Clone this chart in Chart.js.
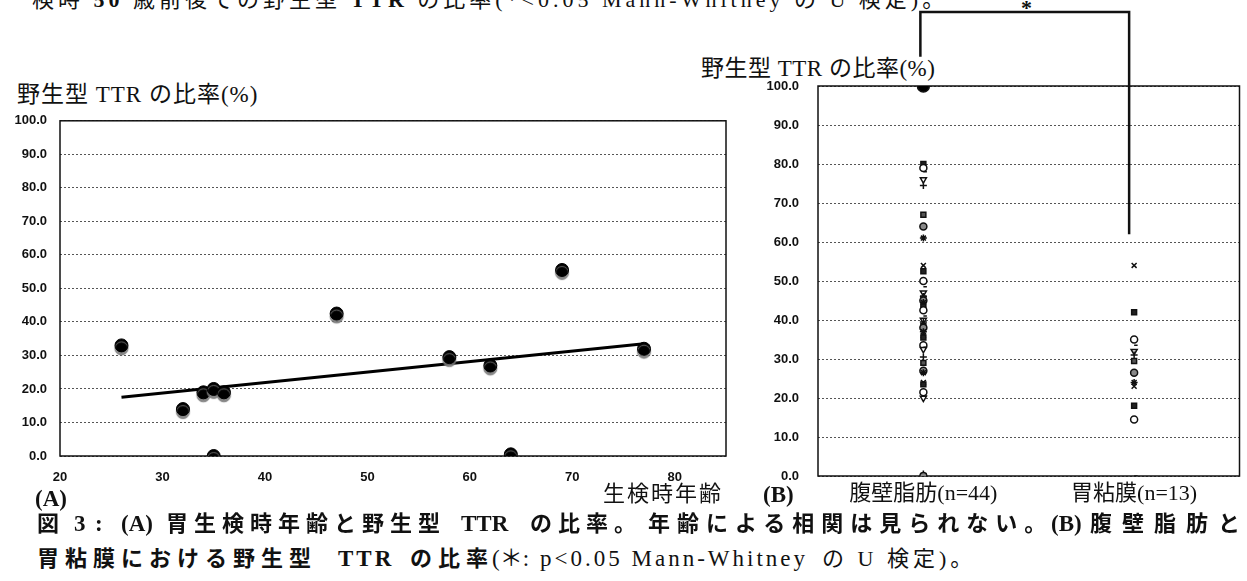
<!DOCTYPE html>
<html lang="ja">
<head>
<meta charset="utf-8">
<script src="https://cdn.jsdelivr.net/npm/chart.js@4.4.1/dist/chart.umd.min.js"></script>
<style>
  body { margin: 0; width: 1247px; height: 581px; overflow: hidden; background: #fff; position: relative;
         font-family: "Liberation Serif", "Noto Sans CJK JP", serif; color: #111; }
  canvas { position: absolute; }
  .t { position: absolute; white-space: nowrap; line-height: 1; }
  .cap { font-size: 22px; }
  .j { font-weight: bold; letter-spacing: 6px; }
  .b { font-weight: bold; font-size: 23px; }
  .ttl { font-size: 23px; letter-spacing: 1px; }
</style>
</head>
<body>

<div class="t" style="left:32px; top:-11px; font-size:22px; letter-spacing:4px">検時 <b>50</b> 歳前後での野生型 <b>TTR</b> の比率(*&lt;0.05 Mann-Whitney の U 検定)。</div>
<div class="t" style="left:1021px; top:-3px; font-size:22px; font-weight:bold">*</div>

<div class="t ttl" style="left:17px; top:83px">野生型 TTR の比率(%)</div>
<div class="t ttl" style="left:701px; top:57px; letter-spacing:0.5px">野生型 TTR の比率(%)</div>

<canvas id="chartA" width="740" height="390" style="left:0; top:100px"></canvas>
<canvas id="chartB" width="507" height="520" style="left:740px; top:0"></canvas>

<div class="t" style="left:35px; top:487px; font-size:23px; font-weight:bold">(A)</div>
<div class="t" style="left:603px; top:483px; font-size:22px; letter-spacing:2px">生検時年齢</div>
<div class="t" style="left:763px; top:483px; font-size:23px; font-weight:bold">(B)</div>

<!-- caption, line 1 -->
<div class="t cap j" style="left:37px; top:513px">図</div>
<div class="t cap b" style="left:74px; top:512px">3</div>
<div class="t cap b" style="left:95px; top:512px">:</div>
<div class="t cap b" style="left:121px; top:512px">(A)</div>
<div class="t cap j" style="left:166px; top:513px">胃生検時年齢と野生型</div>
<div class="t cap b" style="left:461px; top:512px">TTR</div>
<div class="t cap j" style="left:530px; top:513px">の比率。</div>
<div class="t cap j" style="left:648px; top:513px; letter-spacing:7px">年齢による相関は見られない。</div>
<div class="t cap b" style="left:1051px; top:512px">(B)</div>
<div class="t cap j" style="left:1090px; top:513px; letter-spacing:10px">腹壁脂肪と</div>

<!-- caption, line 2 -->
<div class="t cap j" style="left:37px; top:548px">胃粘膜における野生型</div>
<div class="t cap b" style="left:338px; top:547px; letter-spacing:3px">TTR</div>
<div class="t cap j" style="left:410px; top:548px">の比率</div>
<div class="t cap" style="left:492px; top:547px; font-size:23px">(＊:</div>
<div class="t cap" style="left:540px; top:547px; font-size:23px; letter-spacing:3px">p&lt;0.05 Mann-Whitney</div>
<div class="t cap" style="left:822px; top:548px; letter-spacing:4px">の U 検定)。</div>

<script>
// (A) age at gastric biopsy vs wild-type TTR ratio
const ages   = [26, 32, 34, 35, 36, 35, 47, 58, 62, 64, 69, 77];
const ratioA = [33, 14, 19, 20, 19, 0, 42.5, 29.5, 27, 0.5, 55.5, 32];
const trendAge   = [26, 77];
const trendRatio = [17.5, 33.5];
const ageTicks   = [20, 30, 40, 50, 60, 70, 80];
const ratioTicks = [0, 10, 20, 30, 40, 50, 60, 70, 80, 90, 100];

// (B) abdominal fat vs gastric mucosa
const groupLabels = ['腹壁脂肪(n=44)', '胃粘膜(n=13)'];
const fatRatio = [100, 80, 79, 78, 76, 74.5, 67, 64, 61, 54, 52.5, 50, 48.5, 47, 46, 45.5, 45, 44.5, 44, 43.5,
                  42.5, 41, 40, 39.5, 38.5, 38, 37, 36, 35.5, 33.5, 33, 32.5, 30.5, 29, 27, 26.5, 24, 23.5,
                  21.5, 20.5, 20, 0.5, 0, 0];
const mucosaRatio = [54, 42, 35, 33.5, 32, 31, 29.5, 26.5, 24, 23, 18, 14.5, 0];
const bracket = { top: 119, leftEnd: 107.5, rightEnd: 62 };

const markerKinds = ['crossRot', 'rect', 'circle', 'dash', 'triangle', 'cross', 'rect', 'circle', 'star'];
const markerFill  = ['#111', '#222', '#fff', '#111', '#fff', '#111', '#555', '#888', '#111'];

const tickFont = { family: 'Liberation Sans, Arial, sans-serif', size: 13, weight: 'bold' };
const serif = 'Liberation Serif, Noto Sans CJK JP, serif';

const frame = {
  id: 'frame',
  beforeDatasetsDraw(chart) {
    const { ctx, chartArea: a } = chart;
    ctx.save();
    ctx.strokeStyle = '#111';
    ctx.lineWidth = 1.5;
    ctx.strokeRect(a.left, a.top, a.right - a.left, a.bottom - a.top);
    ctx.restore();
  }
};

const dotShadow = {
  id: 'dotShadow',
  beforeDatasetDraw(chart, args) {
    if (args.index !== 0) return;
    chart.ctx.save();
    chart.ctx.shadowColor = 'rgba(120,120,120,0.9)';
    chart.ctx.shadowOffsetY = 3;
    chart.ctx.shadowBlur = 1;
  },
  afterDatasetDraw(chart, args) {
    if (args.index === 0) chart.ctx.restore();
  }
};

const sigBracket = {
  id: 'sigBracket',
  afterDraw(chart) {
    const { ctx, scales: { x, y } } = chart;
    const x1 = x.getPixelForValue(0) - 3, x2 = x.getPixelForValue(1) - 5;
    ctx.save();
    ctx.strokeStyle = '#111';
    ctx.lineWidth = 2.5;
    ctx.beginPath();
    ctx.moveTo(x1, y.getPixelForValue(bracket.leftEnd));
    ctx.lineTo(x1, y.getPixelForValue(bracket.top));
    ctx.lineTo(x2, y.getPixelForValue(bracket.top));
    ctx.lineTo(x2, y.getPixelForValue(bracket.rightEnd));
    ctx.stroke();
    ctx.restore();
  }
};

const yAxis = (width, pad) => ({
  min: 0, max: 100,
  afterBuildTicks: s => { s.ticks = ratioTicks.map(v => ({ value: v })); },
  afterFit: s => { s.width = width; },
  grid: { color: '#555', lineWidth: 1, drawTicks: false },
  border: { display: false, dash: [2, 2] },
  ticks: { padding: pad, color: '#111', font: tickFont, callback: v => v.toFixed(1) }
});

new Chart(document.getElementById('chartA'), {
  type: 'scatter',
  data: {
    datasets: [
      {
        data: ages.map((a, i) => ({ x: a, y: ratioA[i] })),
        pointRadius: 6.5, pointHoverRadius: 6.5,
        pointBackgroundColor: '#000', pointBorderColor: '#000',
        order: 0
      },
      {
        type: 'line',
        data: trendAge.map((a, i) => ({ x: a, y: trendRatio[i] })),
        borderColor: '#000', borderWidth: 3, pointRadius: 0, fill: false,
        order: 1
      }
    ]
  },
  options: {
    responsive: false, animation: false,
    layout: { padding: { left: 0, right: 14, top: 14, bottom: 0 } },
    plugins: { legend: { display: false }, tooltip: { enabled: false } },
    scales: {
      x: {
        type: 'linear', min: 20, max: 85,
        afterBuildTicks: s => { s.ticks = ageTicks.map(v => ({ value: v })); },
        afterFit: s => { s.height = 34; },
        grid: { display: false, drawTicks: false }, border: { display: false },
        ticks: { padding: 14, color: '#111', font: tickFont }
      },
      y: yAxis(60, 13)
    }
  },
  plugins: [frame, dotShadow]
});

const groupSet = (label, values) => ({
  data: values.map(v => ({ x: label, y: v })),
  pointStyle: c => c.raw.y >= 100 ? 'circle' : markerKinds[c.dataIndex % markerKinds.length],
  pointRadius: c => c.raw.y >= 100 ? 6 : 3.5,
  pointHoverRadius: c => c.raw.y >= 100 ? 6 : 3.5,
  pointRotation: c => markerKinds[c.dataIndex % markerKinds.length] === 'triangle' ? 180 : 0,
  pointBackgroundColor: c => c.raw.y >= 100 ? '#000' : markerFill[c.dataIndex % markerFill.length],
  pointBorderColor: '#111',
  pointBorderWidth: 1.5
});

new Chart(document.getElementById('chartB'), {
  type: 'scatter',
  data: {
    labels: groupLabels,
    datasets: [groupSet(groupLabels[0], fatRatio), groupSet(groupLabels[1], mucosaRatio)]
  },
  options: {
    responsive: false, animation: false,
    layout: { padding: { left: 0, right: 5, top: 86, bottom: 0 } },
    plugins: { legend: { display: false }, tooltip: { enabled: false } },
    scales: {
      x: {
        type: 'category', labels: groupLabels, offset: true,
        afterFit: s => { s.height = 44; },
        grid: { display: false, drawTicks: false }, border: { display: false },
        ticks: { padding: 5, color: '#111', font: { family: serif, size: 22 } }
      },
      y: yAxis(78, 19)
    }
  },
  plugins: [frame, sigBracket]
});
</script>
</body>
</html>
